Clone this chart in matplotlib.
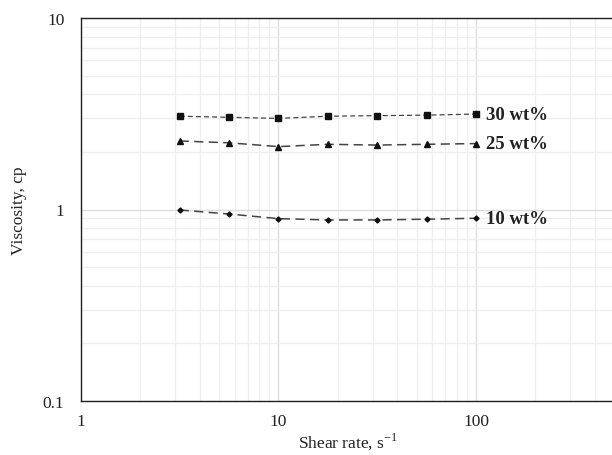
import matplotlib
matplotlib.use('Agg')
import matplotlib.pyplot as plt
from matplotlib.ticker import FixedLocator, NullFormatter, LogLocator

plt.rcParams['font.family'] = ['Liberation Serif', 'DejaVu Serif']

# shear rate, s^-1
shear_rate = [3.16, 5.62, 10, 17.8, 31.6, 56.2, 100]
# viscosity, cp
visc_30 = [3.07, 3.03, 2.99, 3.07, 3.09, 3.11, 3.15]
visc_25 = [2.28, 2.23, 2.13, 2.19, 2.17, 2.19, 2.21]
visc_10 = [0.994, 0.947, 0.896, 0.882, 0.882, 0.89, 0.90]
series_labels = ['30 wt%', '25 wt%', '10 wt%']

x_ticks = [1, 10, 100]
x_ticklabels = ['1', '10', '100']
y_ticks = [0.1, 1, 10]
y_ticklabels = ['0.1', '1', '10']

fig = plt.figure(figsize=(6.12, 4.56), dpi=100)
# right edge runs past the figure (clipped as in the original)
ax = fig.add_axes([81/612, 1 - 402/456, 533/612, 383/456])

ax.plot(shear_rate, visc_30, linestyle=(0, (4, 2.5)), color='#444444', lw=0.9,
        marker='s', markersize=3.8, markerfacecolor='#111111', markeredgecolor='#111111')
ax.plot(shear_rate, visc_25, linestyle=(0, (6, 3.5)), color='#444444', lw=1.1,
        marker='^', markersize=4, markerfacecolor='#111111', markeredgecolor='#111111')
ax.plot(shear_rate, visc_10, linestyle=(0, (6, 3.5)), color='#444444', lw=1.1,
        marker='D', markersize=2.6, markerfacecolor='#111111', markeredgecolor='#111111')

for xs, ys, lab in zip([shear_rate] * 3, [visc_30, visc_25, visc_10], series_labels):
    ax.annotate(lab, xy=(xs[-1], ys[-1]), xytext=(7.5, 0), textcoords='offset points',
                va='center', ha='left', fontsize=13.5, fontweight='bold', color='#222222')

ax.set_xscale('log')
ax.set_yscale('log')
ax.set_xlim(1, 500)
ax.set_ylim(0.1, 10)

ax.xaxis.set_major_locator(FixedLocator(x_ticks))
ax.set_xticklabels(x_ticklabels)
ax.yaxis.set_major_locator(FixedLocator(y_ticks))
ax.set_yticklabels(y_ticklabels)
ax.xaxis.set_minor_locator(LogLocator(base=10, subs=range(2, 10)))
ax.yaxis.set_minor_locator(LogLocator(base=10, subs=range(2, 10)))
ax.xaxis.set_minor_formatter(NullFormatter())
ax.yaxis.set_minor_formatter(NullFormatter())

ax.grid(True, which='major', color='#dddddd', lw=1.0)
ax.grid(True, which='minor', color='#eeeeee', lw=0.9)
ax.set_axisbelow(True)

ax.tick_params(which='both', length=0, labelsize=12.5, colors='#222222')
ax.tick_params(axis='x', pad=9)
ax.tick_params(axis='y', pad=12)

for sp in ['left', 'bottom', 'top']:
    ax.spines[sp].set_color('#222222')
    ax.spines[sp].set_linewidth(1.0)
ax.spines['right'].set_visible(False)

ax.set_xlabel('Shear rate, s$^{\\mathregular{-1}}$', fontsize=12.5, color='#222222', labelpad=1)
ax.set_ylabel('Viscosity, cp', fontsize=12.5, color='#222222', labelpad=11)

fig.savefig('out.png', dpi=100)
